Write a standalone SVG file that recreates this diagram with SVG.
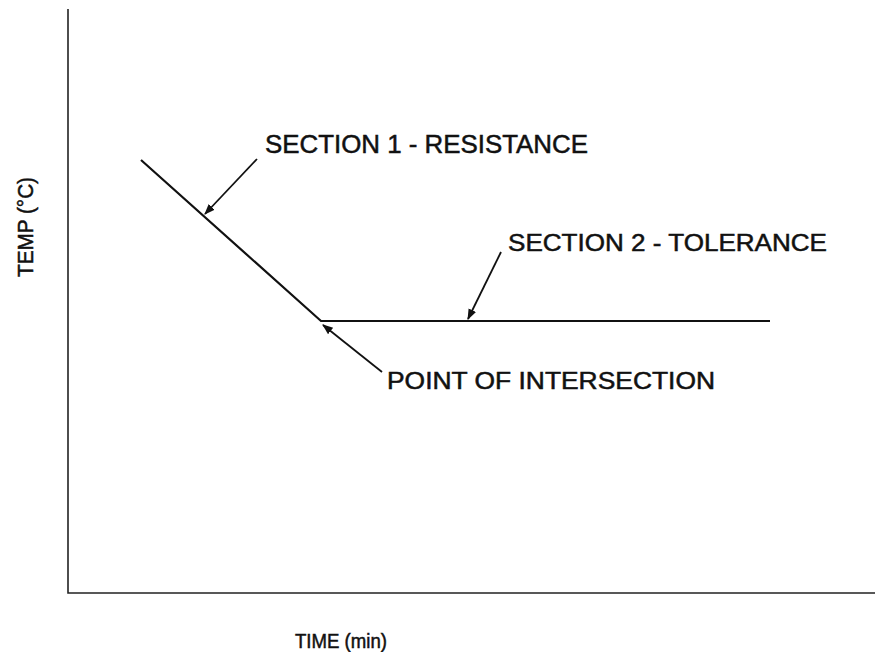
<svg xmlns="http://www.w3.org/2000/svg" width="875" height="652" viewBox="0 0 875 652">
<style>
.t{font-family:"Liberation Sans",Arial,sans-serif;fill:#111;stroke:#111;stroke-width:0.5}
.ax{stroke:#222;stroke-width:1.6;fill:none}
.ln{stroke:#111;stroke-width:2.2;fill:none}
.ar{stroke:#111;stroke-width:1.8;fill:none;marker-end:url(#ah)}
</style>
<defs>
<marker id="ah" viewBox="0 0 10 10" refX="9" refY="5" markerWidth="6" markerHeight="6" orient="auto" markerUnits="strokeWidth">
<path d="M0,1.2 L10,5 L0,8.8 Z" fill="#111"/>
</marker>
</defs>
<rect width="875" height="652" fill="#fff"/>
<g id="axes">
<path class="ax" d="M68,9 L68,593 L875,593"/>
<text class="t" font-size="22" transform="translate(33,227) rotate(-90)" text-anchor="middle" x="0" y="0" textLength="100" lengthAdjust="spacingAndGlyphs">TEMP (°C)</text>
<text class="t" x="295" y="648" font-size="20" textLength="92" lengthAdjust="spacingAndGlyphs">TIME (min)</text>
</g>
<g id="curve">
<path class="ln" d="M141,160 L321,321 L770,321"/>
</g>
<g id="label-section1">
<text class="t" x="265" y="153" font-size="25.5" textLength="323" lengthAdjust="spacingAndGlyphs">SECTION 1 - RESISTANCE</text>
</g>
<g id="label-section2">
<text class="t" x="508" y="251" font-size="23.5" textLength="319" lengthAdjust="spacingAndGlyphs">SECTION 2 - TOLERANCE</text>
</g>
<g id="label-intersection">
<text class="t" x="387" y="389" font-size="23.5" textLength="328" lengthAdjust="spacingAndGlyphs">POINT OF INTERSECTION</text>
</g>
<g id="connectors">
<line class="ar" x1="257" y1="159" x2="205" y2="214"/>
<line class="ar" x1="501" y1="252" x2="468" y2="319"/>
<line class="ar" x1="382" y1="372" x2="323" y2="325"/>
</g>
</svg>
